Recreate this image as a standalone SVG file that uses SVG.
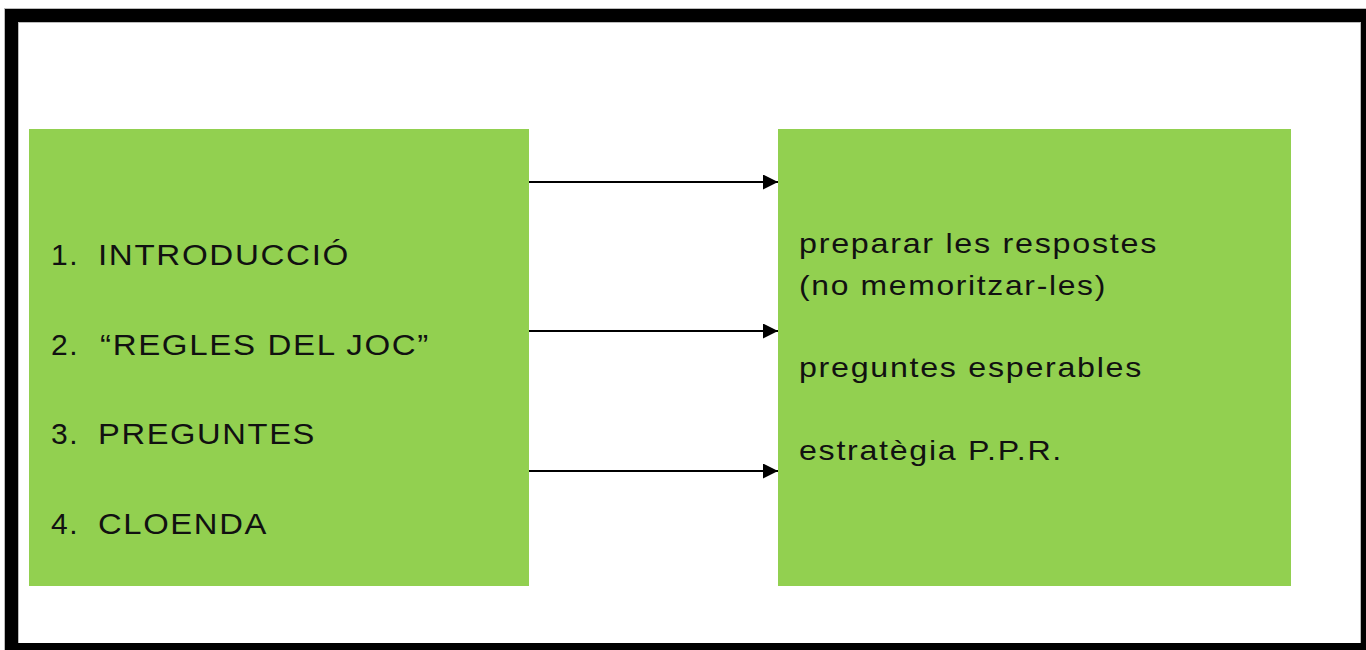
<svg xmlns="http://www.w3.org/2000/svg" width="1366" height="650" viewBox="0 0 1366 650">
<defs>
<style>
.box{fill:#92D050;}
.lt{font-family:"Liberation Sans",Arial,sans-serif;font-size:30px;letter-spacing:1.5px;fill:#111;}
.rt{font-family:"Liberation Sans",Arial,sans-serif;font-size:28px;letter-spacing:1.5px;fill:#111;}
.conn{stroke:#000;stroke-width:2;fill:none;marker-end:url(#ah);}
</style>
<marker id="ah" markerWidth="16" markerHeight="16" refX="15" refY="7.5" orient="auto" markerUnits="userSpaceOnUse">
<path d="M0,0 L15,7.5 L0,15 Z" fill="#000"/>
</marker>
</defs>
<rect x="0" y="0" width="1366" height="650" fill="#fff"/>
<rect x="4" y="8" width="1362" height="642" fill="#bbb"/>
<rect x="5" y="9" width="1361" height="641" fill="#000"/>
<rect x="18" y="22" width="1343" height="621" fill="#bbb"/>
<rect x="19" y="23" width="1341" height="620" fill="#fff"/>
<g id="left-box">
<rect class="box" x="29" y="129" width="500" height="457"/>
<text class="lt" x="51" y="265">1.</text><text class="lt" x="98" y="265" textLength="252" lengthAdjust="spacingAndGlyphs">INTRODUCCIÓ</text>
<text class="lt" x="51" y="355">2.</text><text class="lt" x="100" y="355" textLength="330" lengthAdjust="spacingAndGlyphs">“REGLES DEL JOC”</text>
<text class="lt" x="51" y="444">3.</text><text class="lt" x="98" y="444" textLength="218" lengthAdjust="spacingAndGlyphs">PREGUNTES</text>
<text class="lt" x="51" y="534">4.</text><text class="lt" x="98" y="534" textLength="170" lengthAdjust="spacingAndGlyphs">CLOENDA</text>
</g>
<g id="right-box">
<rect class="box" x="778" y="129" width="513" height="457"/>
<text class="rt" x="799" y="253" textLength="359" lengthAdjust="spacingAndGlyphs">preparar les respostes</text>
<text class="rt" x="799" y="295" textLength="308" lengthAdjust="spacingAndGlyphs">(no memoritzar-les)</text>
<text class="rt" x="799" y="377" textLength="344" lengthAdjust="spacingAndGlyphs">preguntes esperables</text>
<text class="rt" x="799" y="460" textLength="264" lengthAdjust="spacingAndGlyphs">estratègia P.P.R.</text>
</g>
<g id="connectors">
<line class="conn" x1="529" y1="182" x2="778" y2="182"/>
<line class="conn" x1="529" y1="331" x2="778" y2="331"/>
<line class="conn" x1="529" y1="471" x2="778" y2="471"/>
</g>
</svg>
